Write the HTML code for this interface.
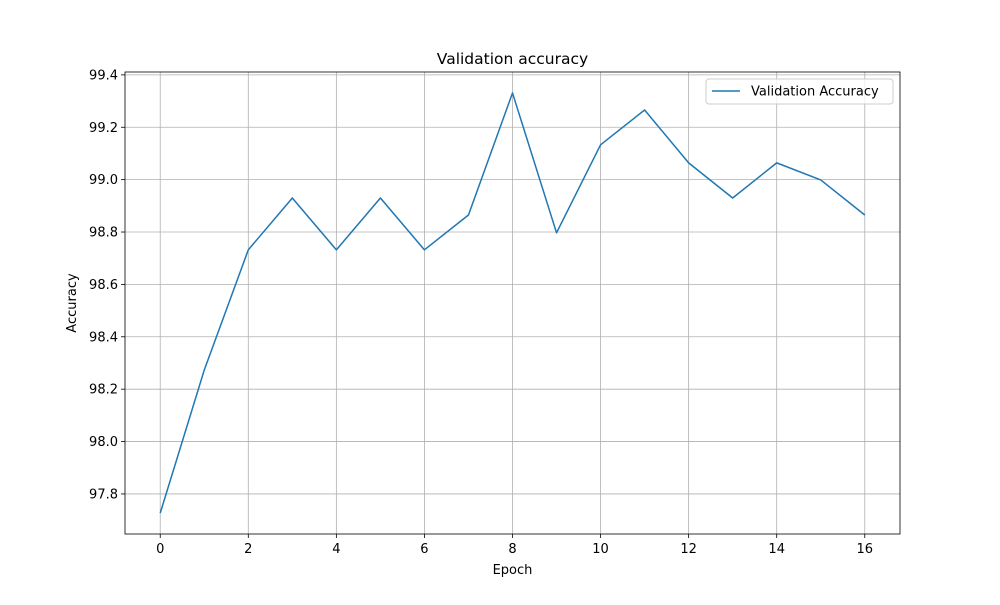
<!DOCTYPE html>
<html><head><meta charset="utf-8"><style>
body{margin:0;background:#fff;font-family:"Liberation Sans","DejaVu Sans",sans-serif;}
svg text{font-family:"DejaVu Sans","Liberation Sans",sans-serif;}
</style></head><body>
<svg id="chart" width="1000" height="600" xmlns="http://www.w3.org/2000/svg"></svg>
<script>
const epochs=[0,1,2,3,4,5,6,7,8,9,10,11,12,13,14,15,16];
const accuracy=[97.727,98.273,98.732,98.930,98.732,98.930,98.732,98.865,99.331,98.797,99.133,99.266,99.064,98.930,99.064,98.999,98.865];
const xTicks=[0,2,4,6,8,10,12,14,16];
const yTicks=[97.8,98.0,98.2,98.4,98.6,98.8,99.0,99.2,99.4];
const L=125,R=900,T=72,B=534;
const xMin=-0.8,xMax=16.8,yMin=97.647,yMax=99.411;
const X=v=>L+(v-xMin)/(xMax-xMin)*(R-L);
const Y=v=>B-(v-yMin)/(yMax-yMin)*(B-T);
const svg=document.getElementById('chart');
const NS='http://www.w3.org/2000/svg';
function mk(t,a,txt){const e=document.createElementNS(NS,t);for(const k in a)e.setAttribute(k,a[k]);if(txt!==undefined)e.textContent=txt;svg.appendChild(e);return e;}
xTicks.forEach(v=>{
 const g=mk('line',{x1:X(v),x2:X(v),y1:T,y2:B,stroke:'#b0b0b0','stroke-width':0.8});
 
 
 mk('line',{x1:X(v),x2:X(v),y1:B,y2:B+4,stroke:'#000','stroke-width':0.8});
 const t=mk('text',{x:X(v),y:B+19,'text-anchor':'middle','font-size':13,fill:'#000'},String(v));
 
 
});
yTicks.forEach(v=>{
 const g=mk('line',{x1:L,x2:R,y1:Y(v),y2:Y(v),stroke:'#b0b0b0','stroke-width':0.8});
 
 
 mk('line',{x1:L-4,x2:L,y1:Y(v),y2:Y(v),stroke:'#000','stroke-width':0.8});
 const t=mk('text',{x:L-7,y:Y(v)+4.5,'text-anchor':'end','font-size':13,fill:'#000'},v.toFixed(1));
 
 
});
const pts=epochs.map((e,i)=>X(e)+','+Y(accuracy[i])).join(' ');
const line=mk('polyline',{points:pts,fill:'none',stroke:'#1f77b4','stroke-width':1.5,'stroke-linejoin':'round'});


const fr=mk('rect',{x:L,y:T,width:R-L,height:B-T,fill:'none',stroke:'#000','stroke-width':0.8});


const ti=mk('text',{x:(L+R)/2,y:64,'text-anchor':'middle','font-size':15.5,fill:'#000'},'Validation accuracy');


const xl=mk('text',{x:(L+R)/2,y:574,'text-anchor':'middle','font-size':13,fill:'#000'},'Epoch');


const yl=mk('text',{x:76,y:(T+B)/2,'text-anchor':'middle','font-size':13,fill:'#000',transform:'rotate(-90 76 '+(T+B)/2+')'},'Accuracy');


const lg=mk('rect',{x:706,y:79,width:187,height:25,rx:3,fill:'#fff','fill-opacity':0.8,stroke:'#ccc','stroke-width':1});


mk('line',{x1:712,x2:740,y1:91,y2:91,stroke:'#1f77b4','stroke-width':1.5});
const le=mk('text',{x:751,y:95.5,'font-size':13,fill:'#000'},'Validation Accuracy');


</script>
</body></html>
